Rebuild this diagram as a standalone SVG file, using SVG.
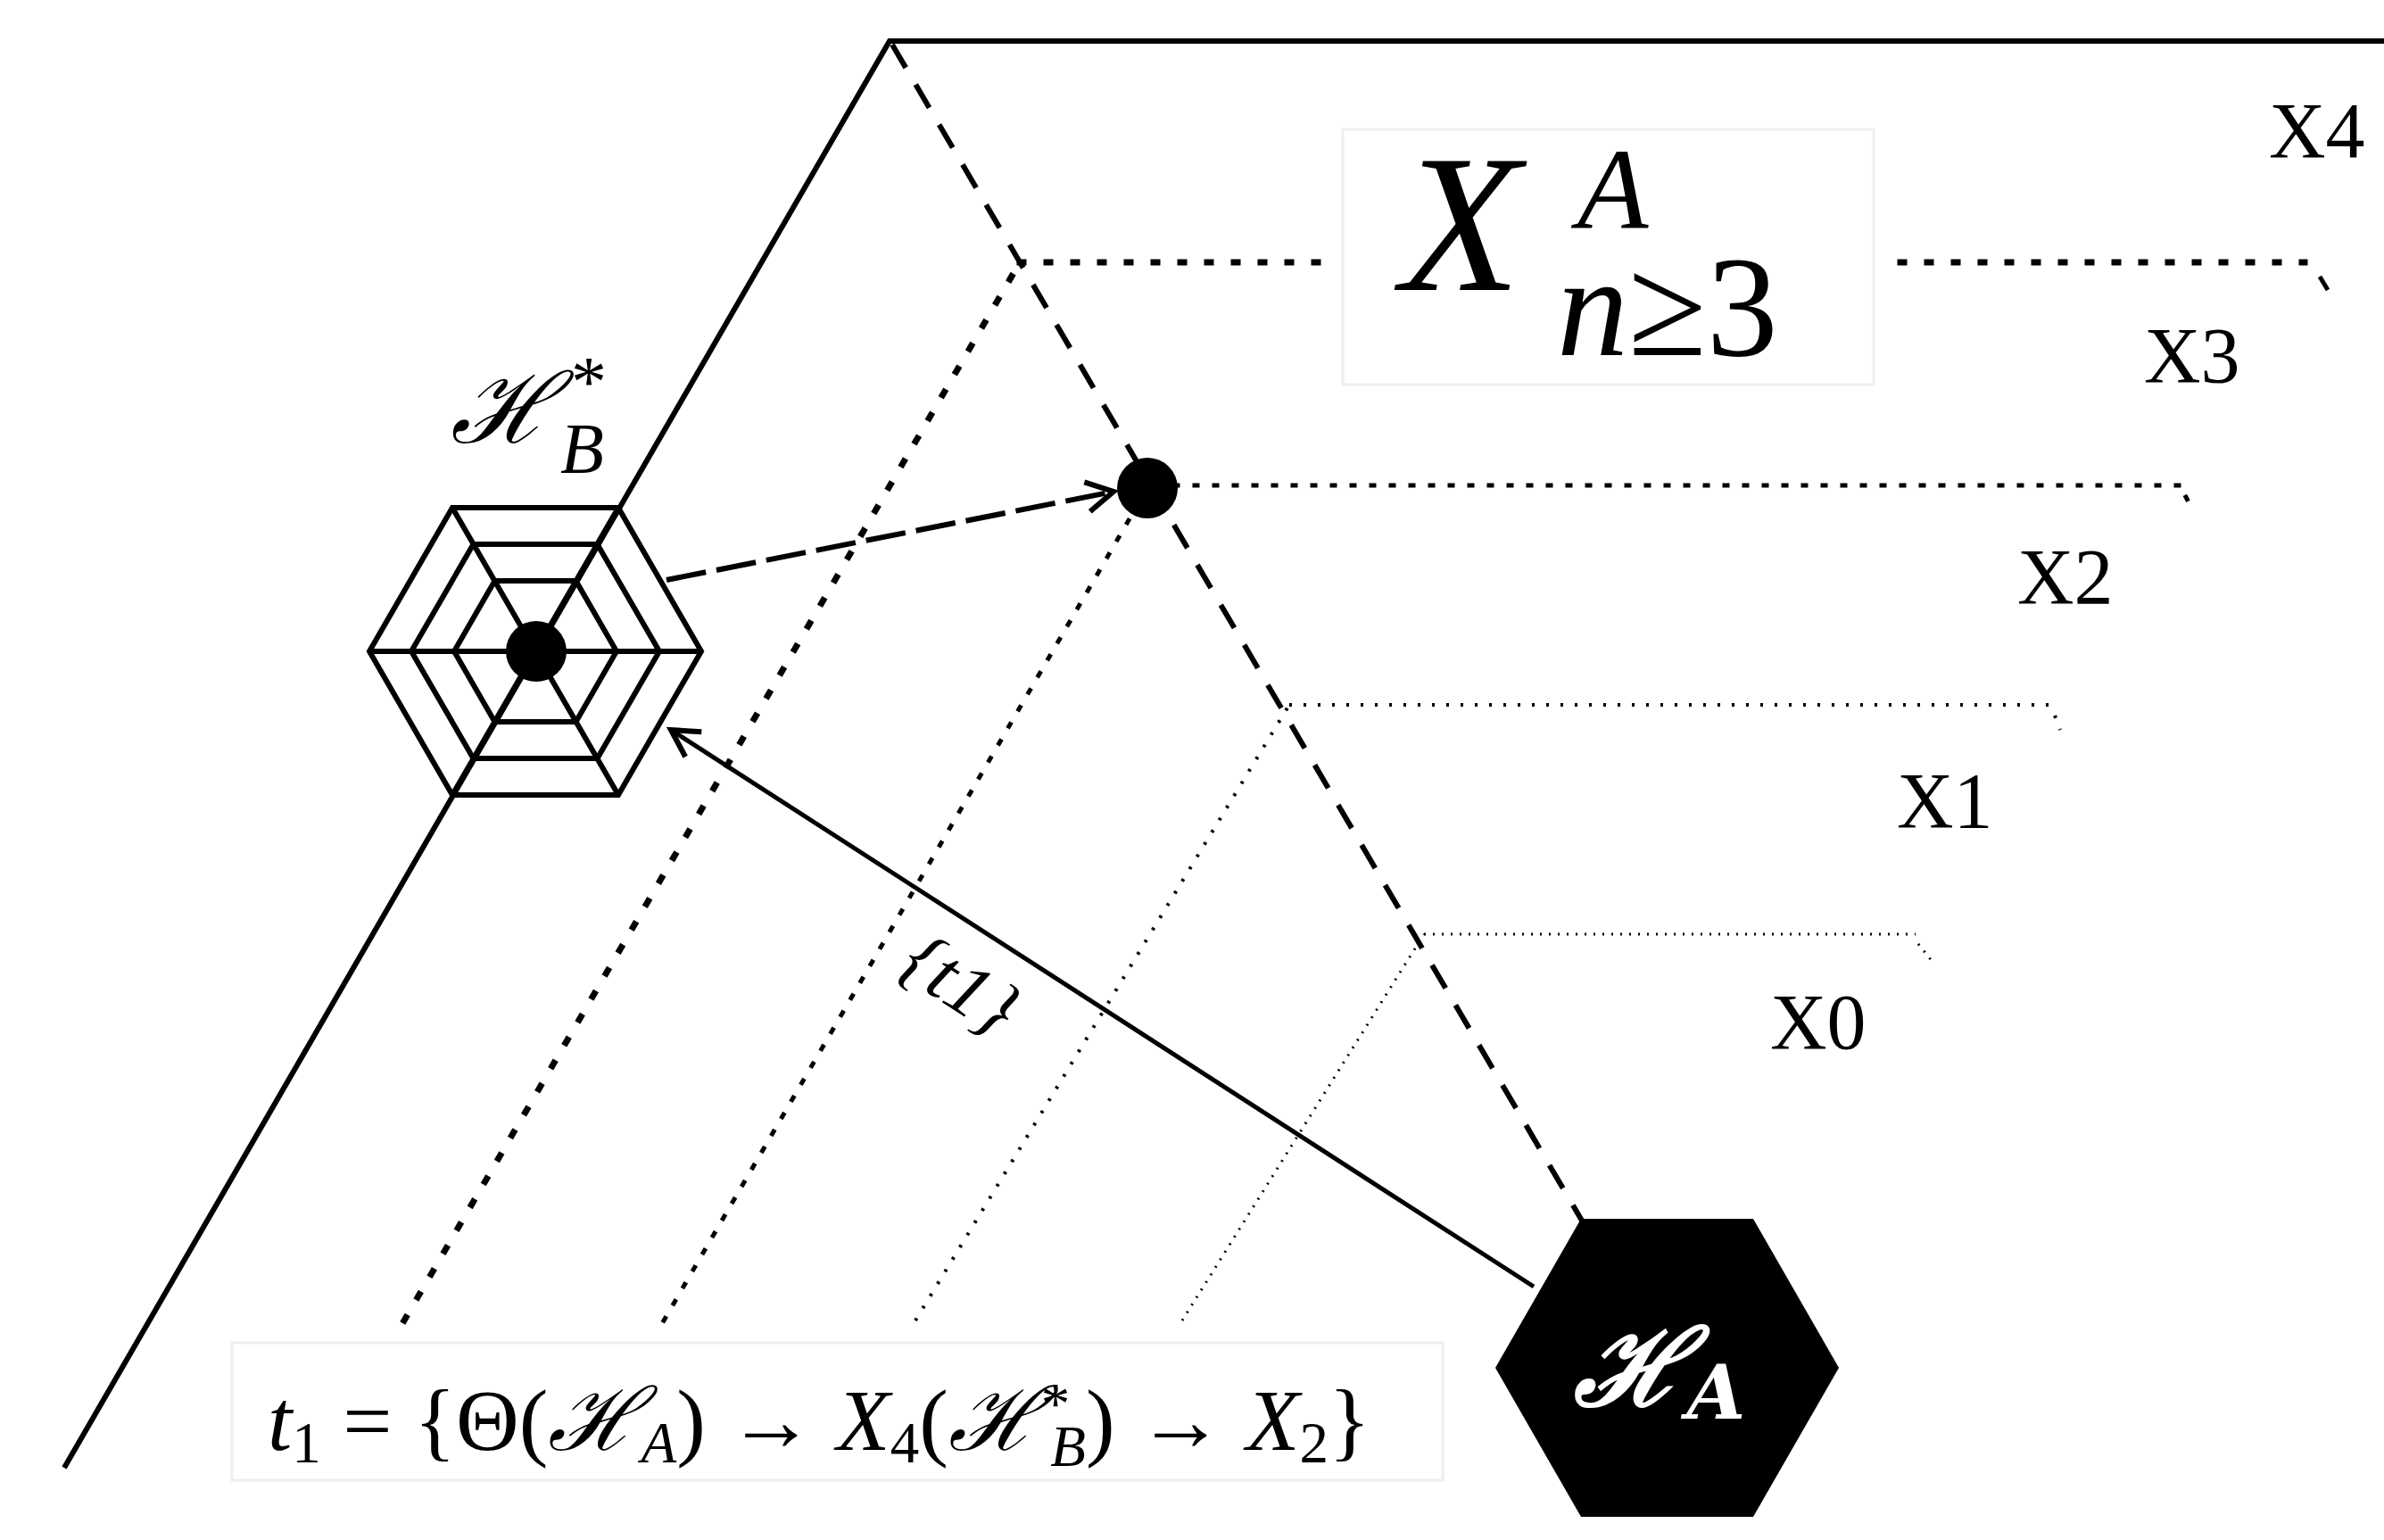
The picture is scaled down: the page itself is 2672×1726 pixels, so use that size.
<svg xmlns="http://www.w3.org/2000/svg" width="2672" height="1726" viewBox="0 0 2672 1726">
<style>
.t{font-family:"Liberation Serif","DejaVu Serif",serif;fill:#000}
.i{font-style:italic}
.ln{fill:none;stroke:#000}
</style>
<defs>
<marker id="ah2" viewBox="0 0 12 12" refX="10" refY="6" markerWidth="40" markerHeight="40" orient="auto" markerUnits="userSpaceOnUse">
<path d="M1,1 L10,6 L1,11" fill="none" stroke="#000" stroke-width="1.8"/>
</marker>
</defs>
<rect width="2672" height="1726" fill="#fff"/>
<g id="frame">
<polyline class="ln" points="72,1645 997,46 2672,46" stroke-width="6"/>
<line class="ln" x1="1000" y1="50" x2="1773" y2="1368" stroke-width="6" stroke-dasharray="30,22"/>
</g>
<g id="levels">
<g stroke-dasharray="4,26" stroke-linecap="square" class="ln" stroke-width="7">
<line x1="1143" y1="294" x2="1488" y2="294"/>
<line x1="2130" y1="294" x2="2583" y2="294"/>
<line x1="453" y1="1480" x2="1143" y2="294"/>
</g>
<line class="ln" x1="2600" y1="310" x2="2609" y2="325" stroke-width="5"/>
<g stroke-dasharray="3,19" stroke-linecap="square" class="ln" stroke-width="5">
<line x1="1317" y1="544" x2="2446" y2="544"/>
<line x1="744" y1="1480" x2="1286" y2="547"/>
<line x1="2450" y1="557" x2="2458" y2="573"/>
</g>
<g stroke-dasharray="3,13" class="ln" stroke-width="4">
<line x1="1445" y1="790" x2="2301" y2="790"/>
<line x1="1026" y1="1480" x2="1445" y2="790"/>
<line x1="2303" y1="802" x2="2309" y2="818"/>
</g>
<g stroke-dasharray="2,8" class="ln" stroke-width="3">
<line x1="1596" y1="1047" x2="2147" y2="1047"/>
<line x1="1325" y1="1480" x2="1596" y2="1047"/>
<line x1="2150" y1="1058" x2="2166" y2="1078"/>
</g>
<text class="t" x="2543" y="176" font-size="88">X4</text>
<text class="t" x="2403" y="428" font-size="88">X3</text>
<text class="t" x="2261" y="676" font-size="88">X2</text>
<text class="t" x="2126" y="927" font-size="88">X1</text>
<text class="t" x="1984" y="1175" font-size="88">X0</text>
</g>
<g id="label-XA">
<rect x="1505" y="145" width="595" height="286" fill="#fff" stroke="#eee" stroke-width="3"/>
<text class="t i" x="1570" y="325" font-size="220">X</text>
<text class="t i" x="1768" y="256" font-size="130">A</text>
<text class="t" x="1745" y="398" font-size="160"><tspan class="i">n</tspan>≥3</text>
</g>
<g id="HB">
<g class="ln" stroke-width="6" stroke-linejoin="miter">
<polygon points="414,730 507,569 693,569 786,730 693,891 507,891"/>
<polygon points="461,730 530.5,610 669.5,610 739,730 669.5,850 530.5,850"/>
<polygon points="509,730 554.5,651 645.5,651 691,730 645.5,809 554.5,809"/>
<line x1="414" y1="730" x2="786" y2="730"/>
<line x1="507" y1="569" x2="693" y2="891"/>
<line x1="693" y1="569" x2="507" y2="891"/>
</g>
<circle cx="601" cy="730" r="34" fill="#000"/>
<text class="t i" x="505" y="496" font-size="110" font-family="DejaVu Serif">ℋ</text>
<text class="t" x="640" y="455" font-size="80">*</text>
<text class="t i" x="628" y="530" font-size="80">B</text>
</g>
<g id="dot">
<circle cx="1286" cy="547" r="34" fill="#000"/>
</g>
<g id="HA">
<polygon points="1676,1533 1772,1366 1965,1366 2061,1533 1965,1700 1772,1700" fill="#000"/>
<text x="1860" y="1575" font-size="120" font-weight="bold" font-style="italic" font-family="DejaVu Serif,serif" fill="#fff" text-anchor="middle">ℋ<tspan font-size="85" dy="15">A</tspan></text>
</g>
<g id="connectors">
<line class="ln" x1="747" y1="650" x2="1248" y2="551" stroke-width="6" stroke-dasharray="45,12" marker-end="url(#ah2)"/>
<line class="ln" x1="1719" y1="1442" x2="752" y2="818" stroke-width="5" marker-end="url(#ah2)"/>
<text class="t i" transform="translate(1005,1090) rotate(33)" font-size="85">{t1}</text>
</g>
<g id="equation">
<rect x="260" y="1505" width="1357" height="154" fill="#fff" stroke="#eee" stroke-width="3"/>
<text class="t" x="300" y="1625" font-size="98"><tspan class="i">t</tspan><tspan font-size="65" dy="14">1</tspan><tspan dy="-14"> = {Θ(</tspan><tspan font-family="DejaVu Serif" class="i">ℋ</tspan><tspan class="i" font-size="65" dy="14">A</tspan><tspan dy="-14">) → </tspan><tspan class="i">X</tspan><tspan font-size="65" dy="14">4</tspan><tspan dy="-14">(</tspan><tspan font-family="DejaVu Serif" class="i">ℋ</tspan><tspan font-size="65" dy="-30">*</tspan><tspan class="i" font-size="65" dx="-22" dy="48">B</tspan><tspan dy="-18">) → </tspan><tspan class="i">X</tspan><tspan font-size="65" dy="14">2</tspan><tspan dy="-14">}</tspan></text>
</g>
</svg>
